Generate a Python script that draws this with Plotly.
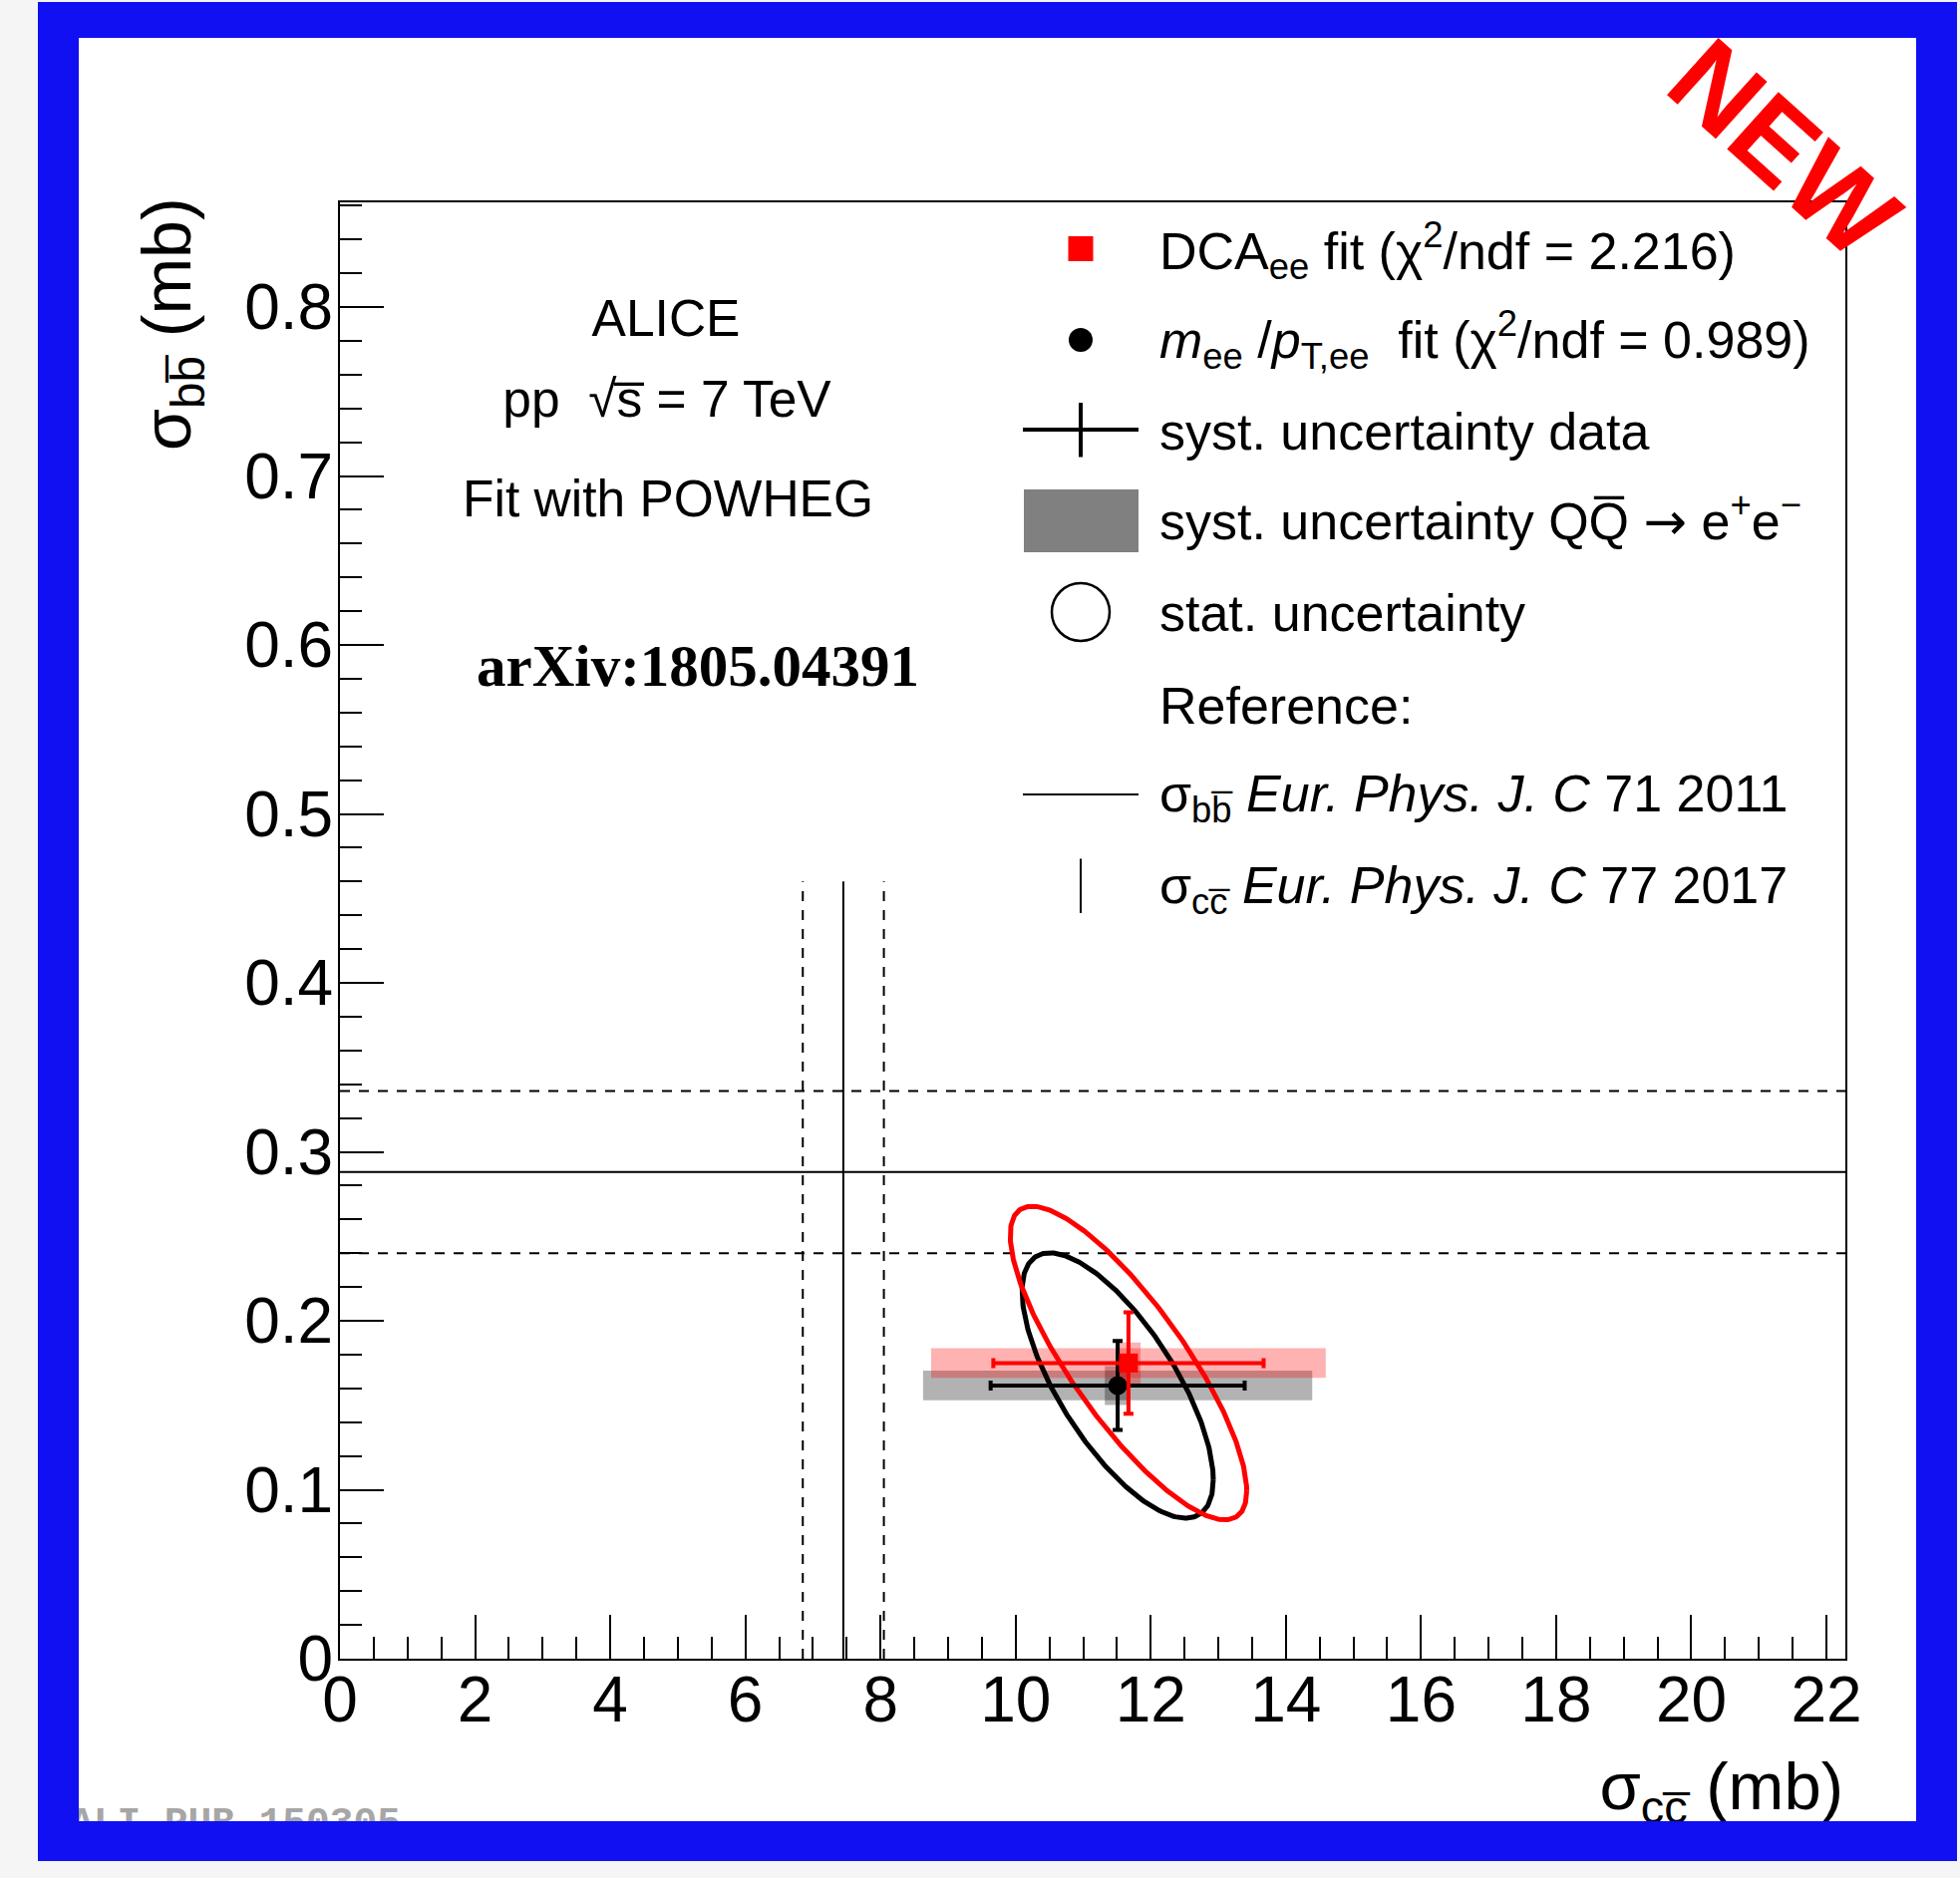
import numpy as np
import plotly.graph_objects as go

# ---------------- canvas geometry (px) ----------------
WIDTH, HEIGHT = 1966, 1884
PLOT_LEFT, PLOT_RIGHT, PLOT_TOP, PLOT_BOTTOM = 341, 1851, 203, 1664


def paper_x(px):
    return px / WIDTH


def paper_y(py):
    return 1 - py / HEIGHT


# ---------------- axes (mb) ----------------
x_range = [0, 22.28]
y_range = [0, 0.862]
x_tick_vals = [0, 2, 4, 6, 8, 10, 12, 14, 16, 18, 20, 22]
x_tick_text = ["0", "2", "4", "6", "8", "10", "12", "14", "16", "18", "20", "22"]
y_tick_vals = [0, 0.1, 0.2, 0.3, 0.4, 0.5, 0.6, 0.7, 0.8]
y_tick_text = ["0", "0.1", "0.2", "0.3", "0.4", "0.5", "0.6", "0.7", "0.8"]

# ---------------- fit results (mb) ----------------
# index 0: DCA_ee fit, index 1: m_ee/p_T,ee fit
fit_color = ["#ff0000", "#000000"]
fit_box_color = ["rgba(255,0,0,0.30)", "rgba(0,0,0,0.30)"]
fit_symbol = ["square", "circle"]
sigma_cc = [11.67, 11.51]
sigma_bb = [0.175, 0.1617]
syst_data_cc = [2.00, 1.88]
syst_data_bb = [0.030, 0.0263]
syst_qq_cc = [2.92, 2.88]
syst_qq_bb = [0.0088, 0.0088]
syst_qq_narrow_cc = [0.18, 0.19]
syst_qq_narrow_bb = [0.0122, 0.0115]
stat_cc = [1.75, 1.415]
stat_bb = [0.0928, 0.0785]
stat_rho = [-0.815, -0.71]

# ---------------- published reference values (mb) ----------------
ref_cc = 7.45
ref_cc_err = 0.60
ref_cc_ymax = 0.46
ref_bb = 0.288
ref_bb_err = 0.048

FONT = "Liberation Sans, Arial, sans-serif"
SERIF = "Liberation Serif, Times New Roman, serif"
MONO = "Liberation Mono, Courier New, monospace"
ARROW = '<span style="font-family:DejaVu Sans">\u2192</span>'


def box_outline(cx, cy, hx, hy):
    return ([cx - hx, cx + hx, cx + hx, cx - hx, cx - hx],
            [cy - hy, cy - hy, cy + hy, cy + hy, cy - hy])


def stat_ellipse(cx, cy, sx, sy, rho, n=361):
    t = np.linspace(0, 2 * np.pi, n)
    x = cx + sx * np.cos(t)
    y = cy + sy * (rho * np.cos(t) - np.sqrt(1 - rho ** 2) * np.sin(t))
    return x, y


fig = go.Figure()

# reference cross sections: solid = central value, dashed = uncertainty
DASH = "10px,9px"
for xv, dash in [(ref_cc - ref_cc_err, DASH), (ref_cc, "solid"), (ref_cc + ref_cc_err, DASH)]:
    fig.add_trace(go.Scatter(x=[xv, xv], y=[0, ref_cc_ymax], mode="lines",
                             line=dict(color="black", width=2, dash=dash),
                             showlegend=False, hoverinfo="skip"))
for yv, dash in [(ref_bb - ref_bb_err, DASH), (ref_bb, "solid"), (ref_bb + ref_bb_err, DASH)]:
    fig.add_trace(go.Scatter(x=x_range, y=[yv, yv], mode="lines",
                             line=dict(color="black", width=2, dash=dash),
                             showlegend=False, hoverinfo="skip"))

# QQbar -> ee systematic boxes (grey first, then red on top)
for i in [1, 0]:
    for hx, hy in [(syst_qq_cc[i], syst_qq_bb[i]), (syst_qq_narrow_cc[i], syst_qq_narrow_bb[i])]:
        bx, by = box_outline(sigma_cc[i], sigma_bb[i], hx, hy)
        fig.add_trace(go.Scatter(x=bx, y=by, mode="lines", fill="toself",
                                 fillcolor=fit_box_color[i], line=dict(width=0),
                                 showlegend=False, hoverinfo="skip"))

# statistical uncertainty contours
for i in [1, 0]:
    ex, ey = stat_ellipse(sigma_cc[i], sigma_bb[i], stat_cc[i], stat_bb[i], stat_rho[i])
    fig.add_trace(go.Scatter(x=ex, y=ey, mode="lines",
                             line=dict(color=fit_color[i], width=5),
                             showlegend=False, hoverinfo="skip"))

# fit results with data systematic uncertainties
for i in [1, 0]:
    fig.add_trace(go.Scatter(
        x=[sigma_cc[i]], y=[sigma_bb[i]], mode="markers",
        marker=dict(symbol=fit_symbol[i], size=19, color=fit_color[i]),
        error_x=dict(type="data", array=[syst_data_cc[i]], color=fit_color[i], thickness=4, width=5),
        error_y=dict(type="data", array=[syst_data_bb[i]], color=fit_color[i], thickness=4, width=5),
        showlegend=False, hoverinfo="skip"))

# ---------------- full-canvas overlay in pixel units (legend, labels) ----------------


def add_text(x, baseline, text, size, pos="middle right", family=FONT, color="black"):
    fig.add_trace(go.Scatter(
        x=[x], y=[baseline - 0.25 * size], mode="text", text=[text],
        textposition=pos, textfont=dict(family=family, size=size, color=color),
        cliponaxis=False, showlegend=False, hoverinfo="skip",
        xaxis="x2", yaxis="y2"))


def add_marker(x, y, symbol, size, color, line_width=0):
    fig.add_trace(go.Scatter(
        x=[x], y=[y], mode="markers",
        marker=dict(symbol=symbol, size=size, color=color,
                    line=dict(width=line_width, color=color)),
        cliponaxis=False, showlegend=False, hoverinfo="skip",
        xaxis="x2", yaxis="y2"))


LEG_MARK_X = 1084
LEG_TEXT_X = 1163
LEG_SIZE = 52
legend_text = [
    "DCA<sub>ee</sub> fit (χ<sup>2</sup>/ndf = 2.216)",
    "<i>m</i><sub>ee</sub> /<i>p</i><sub>T,ee</sub>  fit (χ<sup>2</sup>/ndf = 0.989)",
    "syst. uncertainty data",
    "syst. uncertainty QQ\u0305 " + ARROW + " e<sup>+</sup>e<sup>\u2212</sup>",
    "stat. uncertainty",
    "Reference:",
    "σ<sub>bb\u0305</sub> <i>Eur. Phys. J. C</i> 71 2011",
    "σ<sub>cc\u0305</sub> <i>Eur. Phys. J. C</i> 77 2017",
]
legend_baseline = [269.5, 359, 451, 540.6, 632.6, 725.6, 814, 906]
for txt, bl in zip(legend_text, legend_baseline):
    add_text(LEG_TEXT_X, bl, txt, LEG_SIZE)

# legend keys: fit markers and statistical contour symbol
add_marker(LEG_MARK_X, 249.5, "square", 25, "#ff0000")
add_marker(LEG_MARK_X, 341, "circle", 24, "black")
add_marker(LEG_MARK_X, 614, "circle-open", 58, "black", line_width=2.5)

# header text
add_text(668, 336.7, "ALICE", 51.5, "middle center")
add_text(669, 417.7, "pp  \u221as\u0305 = 7 TeV", 51.5, "middle center")
add_text(670, 518.3, "Fit with POWHEG", 51.5, "middle center")
add_text(700, 688.3, "<b>arXiv:1805.04391</b>", 59, "middle center", family=SERIF)

# x axis title
add_text(1849, 1815, "σ<sub>cc\u0305</sub> (mb)", 67, "middle left")

# figure identifier (partly hidden under the frame)
add_text(70, 1840, "<b>ALI-PUB-150305</b>", 39.5, "middle right", family=MONO, color="#a6a6a6")

shapes = []


def rect_px(x0, y0, x1, y1, color, layer="above"):
    shapes.append(dict(type="rect", xref="paper", yref="paper",
                       x0=paper_x(x0), x1=paper_x(x1), y0=paper_y(y1), y1=paper_y(y0),
                       fillcolor=color, line=dict(width=0), layer=layer))


def line_px(x0, y0, x1, y1, width, color="black", dash="solid"):
    shapes.append(dict(type="line", xref="paper", yref="paper",
                       x0=paper_x(x0), x1=paper_x(x1), y0=paper_y(y0), y1=paper_y(y1),
                       line=dict(color=color, width=width, dash=dash), layer="above"))


# white page inside the blue frame
rect_px(38, 2, 1963, 1867, "white", layer="below")

# legend keys drawn as shapes
line_px(1026, 431, 1142, 431, 4)
line_px(LEG_MARK_X, 404, LEG_MARK_X, 458.5, 4)
rect_px(1027, 491, 1142, 554, "#808080")
line_px(1026, 797, 1142, 797, 2)
line_px(LEG_MARK_X, 861.5, LEG_MARK_X, 916, 2)

# blue frame
FRAME_BLUE = "#1010f2"
rect_px(38, 2, 1963, 38, FRAME_BLUE)
rect_px(38, 1827, 1963, 1867, FRAME_BLUE)
rect_px(38, 2, 79, 1867, FRAME_BLUE)
rect_px(1922, 2, 1963, 1867, FRAME_BLUE)

annotations = [
    dict(text="σ<sub>bb\u0305</sub> (mb)", textangle=-90, xref="paper", yref="paper",
         x=paper_x(172), y=paper_y(196), xanchor="center", yanchor="top",
         showarrow=False, font=dict(family=FONT, size=68, color="black")),
    dict(text="<b>NEW</b>", textangle=42, xref="paper", yref="paper",
         x=paper_x(1790), y=paper_y(149), xanchor="center", yanchor="middle",
         showarrow=False, font=dict(family=FONT, size=112, color="#ff0000")),
]

axis_common = dict(showline=True, mirror=True, linecolor="black", linewidth=2,
                   ticks="inside", ticklen=44, tickwidth=2, tickcolor="black",
                   showgrid=False, zeroline=False, autorange=False, automargin=False,
                   tickfont=dict(family=FONT, size=64, color="black"))

fig.update_layout(
    width=WIDTH, height=HEIGHT,
    margin=dict(l=0, r=0, t=0, b=0, pad=0),
    paper_bgcolor="#f5f5f5", plot_bgcolor="rgba(0,0,0,0)",
    showlegend=False,
    xaxis=dict(domain=[paper_x(PLOT_LEFT), paper_x(PLOT_RIGHT)], anchor="y",
               range=x_range, tickmode="array", tickvals=x_tick_vals, ticktext=x_tick_text,
               ticklabelstandoff=-16,
               minor=dict(dtick=0.5, tick0=0, ticklen=22, tickwidth=2, tickcolor="black", ticks="inside"),
               **axis_common),
    yaxis=dict(domain=[paper_y(PLOT_BOTTOM), paper_y(PLOT_TOP)], anchor="x",
               range=y_range, tickmode="array", tickvals=y_tick_vals, ticktext=y_tick_text,
               ticklabelstandoff=-8,
               minor=dict(dtick=0.02, tick0=0, ticklen=22, tickwidth=2, tickcolor="black", ticks="inside"),
               **axis_common),
    xaxis2=dict(domain=[0, 1], anchor="y2", range=[0, WIDTH],
                autorange=False, visible=False),
    yaxis2=dict(domain=[0, 1], anchor="x2", range=[HEIGHT, 0],
                autorange=False, visible=False),
    shapes=shapes,
    annotations=annotations,
)

fig.write_html("out.html")
